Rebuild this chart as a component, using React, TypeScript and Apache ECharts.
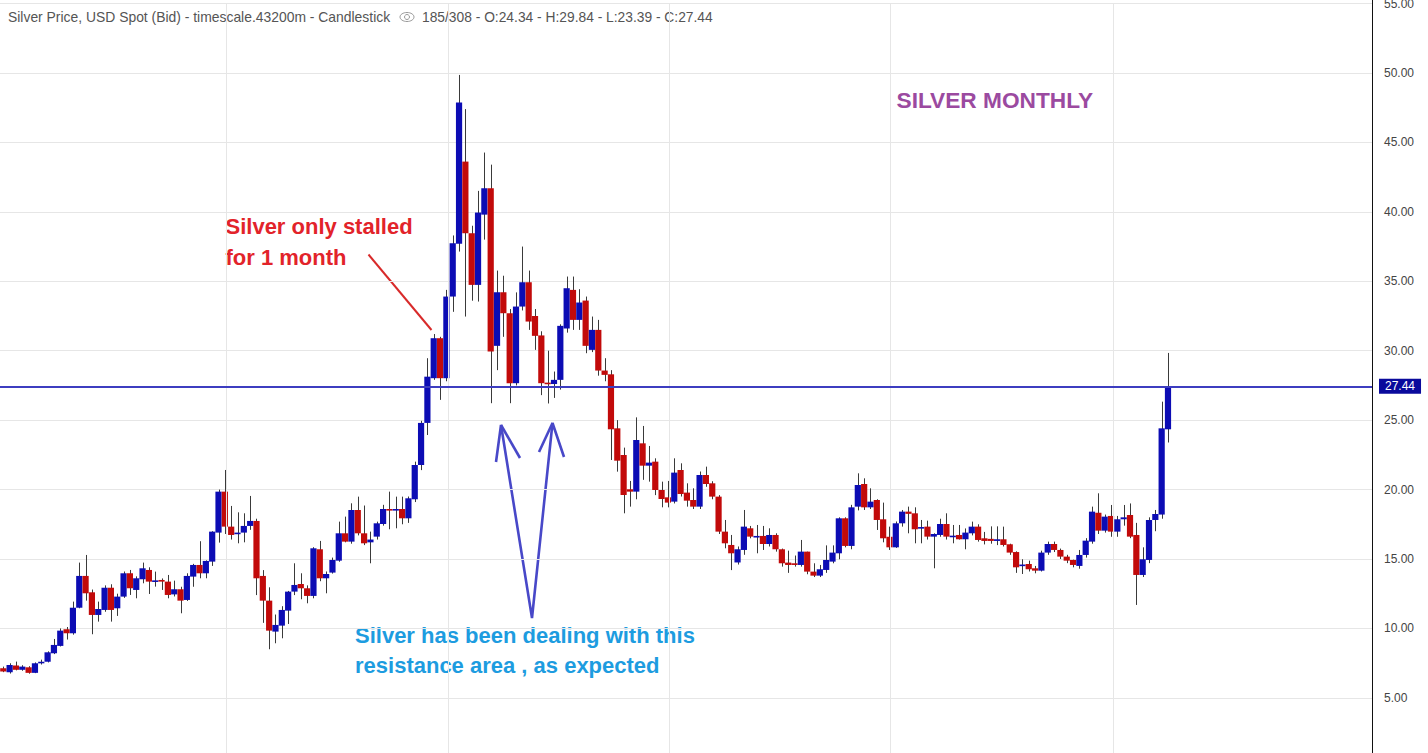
import React, { useEffect, useRef } from "react";
import * as echarts from "echarts";

const FONT = '"Liberation Sans", Arial, Helvetica, sans-serif';

// Monthly candles, Apr 2005 .. Aug 2020 (185 bars)
const MONTH_NAMES = ["Jan", "Feb", "Mar", "Apr", "May", "Jun", "Jul", "Aug", "Sep", "Oct", "Nov", "Dec"];
const months: string[] = [];
for (let k = 0; k < 185; k++) {
  months.push(MONTH_NAMES[(3 + k) % 12] + " " + (2005 + Math.floor((3 + k) / 12)));
}

const opens = [
  7.13, 6.85, 7.33, 7.02, 7.2, 6.8, 7.49, 7.6, 8.21, 8.74,
  9.94, 9.65, 11.49, 13.78, 12.6, 10.97, 11.33, 12.93, 11.45, 12.29,
  13.97, 12.77, 13.54, 14.21, 13.4, 13.49, 13.37, 12.45, 12.82, 12.05,
  13.73, 14.57, 13.97, 14.81, 16.9, 19.85, 17.33, 16.8, 16.9, 17.38,
  17.74, 13.78, 12.0, 9.77, 10.2, 11.28, 12.65, 13.2, 12.89, 12.34,
  15.7, 13.61, 14.02, 14.88, 16.85, 16.25, 18.53, 16.85, 16.2, 16.61,
  17.52, 18.6, 18.53, 18.6, 17.93, 19.3, 21.77, 24.8, 28.02, 30.9,
  28.02, 33.9, 37.7, 43.62, 38.46, 34.74, 39.8, 41.7, 30.35, 34.21,
  32.7, 27.66, 33.18, 34.93, 32.5, 31.1, 27.7, 27.6, 27.9, 31.6,
  34.38, 32.22, 33.61, 30.06, 31.5, 28.57, 28.3, 24.41, 22.49, 20.02,
  19.85, 23.33, 21.72, 22.01, 19.97, 19.44, 19.13, 21.41, 19.78, 19.25,
  18.77, 21.05, 20.45, 19.49, 16.97, 16.01, 14.75, 15.65, 17.21, 16.61,
  16.66, 16.08, 16.73, 15.7, 14.74, 14.69, 14.57, 15.53, 14.09, 13.8,
  14.21, 14.81, 15.41, 17.93, 15.94, 18.77, 20.4, 18.72, 19.25, 17.86,
  16.6, 15.84, 17.57, 18.41, 18.29, 17.2, 17.33, 16.61, 16.73, 17.52,
  16.6, 16.73, 16.42, 16.85, 17.33, 16.49, 16.45, 16.3, 16.42, 16.06,
  15.5, 14.5, 14.64, 14.33, 14.16, 15.46, 16.08, 15.65, 15.17, 14.93,
  14.5, 15.29, 16.25, 18.33, 17.04, 18.1, 16.97, 17.86, 18.17, 16.73,
  13.85, 14.93, 17.81, 18.2, 24.34,
];

const highs = [
  7.25, 7.49, 7.61, 7.35, 7.28, 7.55, 7.75, 8.35, 9.24, 10.0,
  10.1, 11.93, 14.74, 15.29, 12.8, 11.93, 13.1, 13.18, 12.5, 14.1,
  14.21, 13.75, 14.74, 14.4, 14.09, 13.6, 13.85, 13.44, 13.0, 13.97,
  14.65, 16.28, 14.9, 17.0, 20.0, 21.41, 18.82, 18.36, 18.29, 19.54,
  17.9, 14.2, 12.96, 11.0, 11.6, 12.7, 14.69, 13.97, 13.1, 15.85,
  16.3, 14.1, 15.1, 17.69, 18.05, 19.01, 19.49, 18.85, 16.97, 17.69,
  18.9, 19.85, 19.49, 19.49, 19.5, 22.01, 24.95, 29.46, 31.2, 31.0,
  34.38, 38.3, 49.86, 47.4, 39.0, 41.51, 44.27, 43.4, 35.77, 35.4,
  33.0, 34.2, 37.5, 35.77, 33.0, 31.4, 30.0, 28.5, 31.9, 35.34,
  35.34, 34.43, 33.9, 32.46, 32.22, 29.46, 28.6, 25.0, 23.02, 20.62,
  25.2, 24.58, 23.14, 22.25, 20.57, 20.62, 22.25, 21.89, 20.45, 20.09,
  21.3, 21.65, 20.6, 19.6, 17.81, 16.73, 15.9, 18.53, 17.38, 17.45,
  17.38, 17.21, 16.85, 15.75, 15.6, 15.25, 16.37, 15.53, 14.69, 14.57,
  15.98, 15.98, 18.0, 18.0, 18.9, 21.17, 20.81, 20.09, 19.3, 19.06,
  17.33, 17.7, 18.53, 18.77, 18.72, 17.81, 17.76, 16.85, 17.9, 18.29,
  17.45, 17.45, 17.2, 17.69, 17.5, 16.95, 17.35, 17.35, 17.33, 16.1,
  15.55, 14.98, 14.88, 14.5, 15.6, 16.25, 16.25, 15.75, 15.3, 14.95,
  15.65, 16.5, 18.77, 19.73, 18.2, 18.89, 18.1, 18.89, 19.0, 17.6,
  15.84, 18.0, 18.53, 26.33, 29.84,
];

const lows = [
  6.85, 6.75, 6.98, 6.95, 6.74, 6.78, 7.4, 7.55, 8.15, 8.7,
  9.2, 9.55, 11.45, 12.0, 9.58, 10.49, 11.2, 10.49, 10.9, 12.2,
  12.41, 12.17, 13.25, 12.48, 13.01, 12.77, 12.17, 12.3, 11.09, 11.98,
  13.0, 13.61, 13.61, 14.5, 16.18, 16.8, 16.4, 16.13, 16.2, 17.1,
  12.4, 10.4, 8.5, 8.93, 9.29, 10.32, 12.4, 12.1, 11.81, 12.17,
  13.4, 12.53, 13.95, 14.8, 16.2, 16.1, 16.7, 16.0, 14.69, 16.4,
  17.4, 17.14, 17.21, 17.5, 17.6, 19.1, 21.4, 23.93, 27.9, 26.46,
  27.8, 32.8, 37.14, 32.46, 33.6, 33.54, 38.0, 26.22, 28.6, 31.0,
  26.22, 27.5, 32.9, 31.5, 30.06, 26.8, 26.2, 26.6, 27.2, 31.3,
  31.5, 31.5, 29.82, 29.9, 28.2, 27.8, 22.13, 21.29, 18.29, 18.77,
  19.3, 20.7, 20.57, 19.6, 18.72, 18.72, 19.0, 19.5, 18.77, 18.6,
  18.6, 20.2, 19.3, 16.8, 15.77, 14.2, 14.6, 15.3, 16.49, 15.41,
  15.65, 15.9, 15.53, 14.45, 14.0, 14.45, 14.45, 13.9, 13.7, 13.7,
  14.0, 14.69, 14.98, 15.84, 15.7, 18.5, 18.53, 18.6, 17.09, 16.2,
  15.65, 15.8, 17.33, 16.85, 16.13, 16.13, 16.4, 14.33, 16.6, 16.4,
  16.13, 16.4, 15.7, 16.7, 16.25, 16.05, 16.1, 16.0, 15.9, 15.3,
  14.0, 13.92, 14.1, 13.97, 14.1, 15.3, 15.5, 15.0, 14.7, 14.4,
  14.3, 15.1, 16.1, 16.8, 16.9, 16.6, 16.6, 17.4, 16.5, 11.69,
  13.7, 14.7, 17.0, 17.9, 23.39,
];

const closes = [
  6.89, 7.37, 7.02, 7.25, 6.8, 7.49, 7.6, 8.28, 8.81, 9.84,
  9.65, 11.49, 13.78, 12.53, 10.97, 11.4, 12.93, 11.33, 12.29, 13.97,
  12.89, 13.61, 14.33, 13.37, 13.46, 13.37, 12.41, 12.82, 12.0, 13.78,
  14.57, 13.97, 14.86, 16.97, 19.85, 17.33, 16.73, 16.9, 17.38, 17.74,
  13.61, 12.0, 9.84, 10.25, 11.33, 12.65, 13.13, 12.89, 12.34, 15.77,
  13.61, 13.92, 14.93, 16.85, 16.25, 18.53, 16.85, 16.13, 16.4, 17.57,
  18.6, 18.53, 18.6, 17.93, 19.37, 21.77, 24.8, 28.13, 30.9, 28.02,
  33.9, 37.74, 47.87, 38.46, 34.74, 39.95, 41.7, 29.94, 34.21, 32.7,
  27.66, 33.18, 34.93, 32.1, 31.07, 27.66, 27.6, 27.9, 31.79, 34.5,
  32.22, 33.47, 30.35, 31.5, 28.57, 28.26, 24.34, 22.08, 19.61, 19.85,
  23.57, 21.72, 21.94, 19.97, 19.32, 19.06, 21.22, 19.68, 19.2, 18.77,
  21.05, 20.4, 19.49, 16.97, 16.13, 15.41, 15.7, 17.33, 16.61, 16.66,
  16.08, 16.73, 15.7, 14.69, 14.57, 14.57, 15.53, 14.09, 13.8, 14.26,
  14.93, 15.46, 17.93, 15.94, 18.72, 20.33, 18.72, 19.13, 17.81, 16.49,
  15.84, 17.57, 18.41, 18.25, 17.14, 17.3, 16.61, 16.8, 17.52, 16.61,
  16.68, 16.42, 16.9, 17.33, 16.37, 16.3, 16.3, 16.42, 16.01, 15.46,
  14.4, 14.6, 14.26, 14.16, 15.46, 16.08, 15.65, 15.17, 14.88, 14.57,
  15.29, 16.32, 18.41, 17.04, 18.05, 16.97, 17.86, 18.0, 16.61, 13.85,
  14.98, 17.81, 18.24, 24.41, 27.44,
];

// Price scale and reference lines
const yTicks = { min: 0, max: 55, step: 5 };
const lastPrice = 27.44;
const timeGridAt = [35.3, 70.3, 105.2, 140.1, 175.3]; // vertical grid lines (bar index units)

const headerTitle = "Silver Price, USD Spot (Bid) - timescale.43200m - Candlestick";
const headerValues = "185/308 - O:24.34 - H:29.84 - L:23.39 - C:27.44";

const UP = "#0c0cb4";
const DOWN = "#c20a0a";
const WICK = "#3a3a3a";

export default function App() {
  const ref = useRef<HTMLDivElement>(null);

  useEffect(() => {
    document.body.style.margin = "0";
    if (!ref.current) return;
    const chart = echarts.init(ref.current, undefined, { renderer: "svg" });

    const rows = opens.map((o, i) => [i, o, closes[i], lows[i], highs[i]]);

    const option: any = {
      animation: false,
      backgroundColor: "#ffffff",
      grid: {
        left: 0,
        top: 3.57,
        width: 1372,
        height: 763.7,
        containLabel: false,
        outerBoundsMode: "none",
      },
      xAxis: {
        type: "value",
        min: -0.521,
        max: 216.23,
        axisLine: { show: false, onZero: false },
        axisTick: { show: false },
        axisLabel: { show: false },
        splitLine: { show: false },
      },
      yAxis: {
        type: "value",
        position: "right",
        min: yTicks.min,
        max: yTicks.max,
        interval: yTicks.step,
        axisLine: { show: true, onZero: false, lineStyle: { color: "#111", width: 1 } },
        axisTick: { show: false },
        axisLabel: {
          margin: 12,
          color: "#444",
          fontSize: 12,
          fontFamily: FONT,
          showMinLabel: false,
          formatter: (v: number) => v.toFixed(2),
        },
        splitLine: { show: true, lineStyle: { color: "#e6e6e6", width: 1 } },
      },
      series: [
        {
          type: "line",
          data: [],
          z: 1,
          silent: true,
          markLine: {
            silent: true,
            symbol: ["none", "none"],
            label: { show: false },
            lineStyle: { color: "#e6e6e6", width: 1, type: "solid" },
            data: timeGridAt.map((x) => ({ xAxis: x })),
          },
        },
        {
          type: "custom",
          z: 3,
          data: rows,
          encode: { x: 0, y: [1, 2, 3, 4] },
          renderItem: (params: any, api: any) => {
            const i = api.value(0);
            const o = api.value(1);
            const c = api.value(2);
            const l = api.value(3);
            const h = api.value(4);
            const pO = api.coord([i, o]);
            const pC = api.coord([i, c]);
            const pL = api.coord([i, l]);
            const pH = api.coord([i, h]);
            const w = api.size([1, 0])[0] * 0.98;
            const up = c >= o;
            const top = Math.min(pO[1], pC[1]);
            const hgt = Math.max(Math.abs(pO[1] - pC[1]), 1.6);
            const cx = Math.round(pO[0]) + 0.5;
            return {
              type: "group",
              children: [
                {
                  type: "line",
                  shape: { x1: cx, y1: pH[1], x2: cx, y2: pL[1] },
                  style: { stroke: WICK, lineWidth: 1 },
                },
                {
                  type: "rect",
                  shape: { x: pO[0] - w / 2, y: top, width: w, height: hgt },
                  style: { fill: up ? UP : DOWN },
                },
              ],
            };
          },
        },
        {
          type: "line",
          data: [],
          z: 5,
          markLine: {
            silent: true,
            symbol: ["none", "none"],
            lineStyle: { color: "#3d3dc0", width: 2, type: "solid" },
            label: {
              show: true,
              position: "end",
              distance: 7,
              formatter: lastPrice.toFixed(2),
              color: "#ffffff",
              backgroundColor: "#0a0a9c",
              padding: [2, 6, 1, 6],
              fontSize: 12,
              fontFamily: FONT,
            },
            data: [{ yAxis: lastPrice }],
          },
        },
      ],
      graphic: [
        {
          type: "line",
          shape: { x1: 1372.5, y1: 0, x2: 1372.5, y2: 4 },
          style: { stroke: "#111", lineWidth: 1 },
        },
        {
          type: "text",
          x: 8,
          y: 17,
          style: { text: headerTitle, fill: "#555", font: `13.9px ${FONT}`, verticalAlign: "middle" },
        },
        {
          type: "ellipse",
          shape: { cx: 407, cy: 17, rx: 7, ry: 4.5 },
          style: { fill: "none", stroke: "#999", lineWidth: 1 },
        },
        {
          type: "circle",
          shape: { cx: 407, cy: 17, r: 2.5 },
          style: { fill: "none", stroke: "#999", lineWidth: 1 },
        },
        {
          type: "text",
          x: 422,
          y: 17,
          style: { text: headerValues, fill: "#555", font: `13.8px ${FONT}`, verticalAlign: "middle" },
        },
        {
          type: "text",
          x: 896.5,
          y: 100,
          style: { text: "SILVER MONTHLY", fill: "#9b4aa0", font: `bold 22.7px ${FONT}`, verticalAlign: "middle" },
        },
        {
          type: "text",
          x: 225.5,
          y: 226,
          style: { text: "Silver only stalled", fill: "#e2232a", font: `bold 22px ${FONT}`, verticalAlign: "middle" },
        },
        {
          type: "text",
          x: 225.5,
          y: 257,
          style: { text: "for 1 month", fill: "#e2232a", font: `bold 22px ${FONT}`, verticalAlign: "middle" },
        },
        {
          type: "line",
          shape: { x1: 368.5, y1: 254.5, x2: 431.5, y2: 330 },
          style: { stroke: "#d82a2a", lineWidth: 2 },
        },
        {
          type: "polyline",
          shape: { points: [[496, 462], [501, 425], [532, 618], [552.5, 423], [564, 457]] },
          style: { stroke: "#4848c8", lineWidth: 2.6, fill: "none" },
        },
        {
          type: "line",
          shape: { x1: 501, y1: 425, x2: 520, y2: 458 },
          style: { stroke: "#4848c8", lineWidth: 2.6 },
        },
        {
          type: "line",
          shape: { x1: 552.5, y1: 423, x2: 539, y2: 452 },
          style: { stroke: "#4848c8", lineWidth: 2.6 },
        },
        {
          type: "text",
          x: 355,
          y: 635,
          style: { text: "Silver has been dealing with this", fill: "#1d9ce0", font: `bold 22px ${FONT}`, verticalAlign: "middle" },
        },
        {
          type: "text",
          x: 355,
          y: 665,
          style: { text: "resistance area , as expected", fill: "#1d9ce0", font: `bold 22px ${FONT}`, verticalAlign: "middle" },
        },
      ],
    };

    chart.setOption(option);
    return () => chart.dispose();
  }, []);

  return <div ref={ref} style={{ width: 1428, height: 753 }} />;
}
